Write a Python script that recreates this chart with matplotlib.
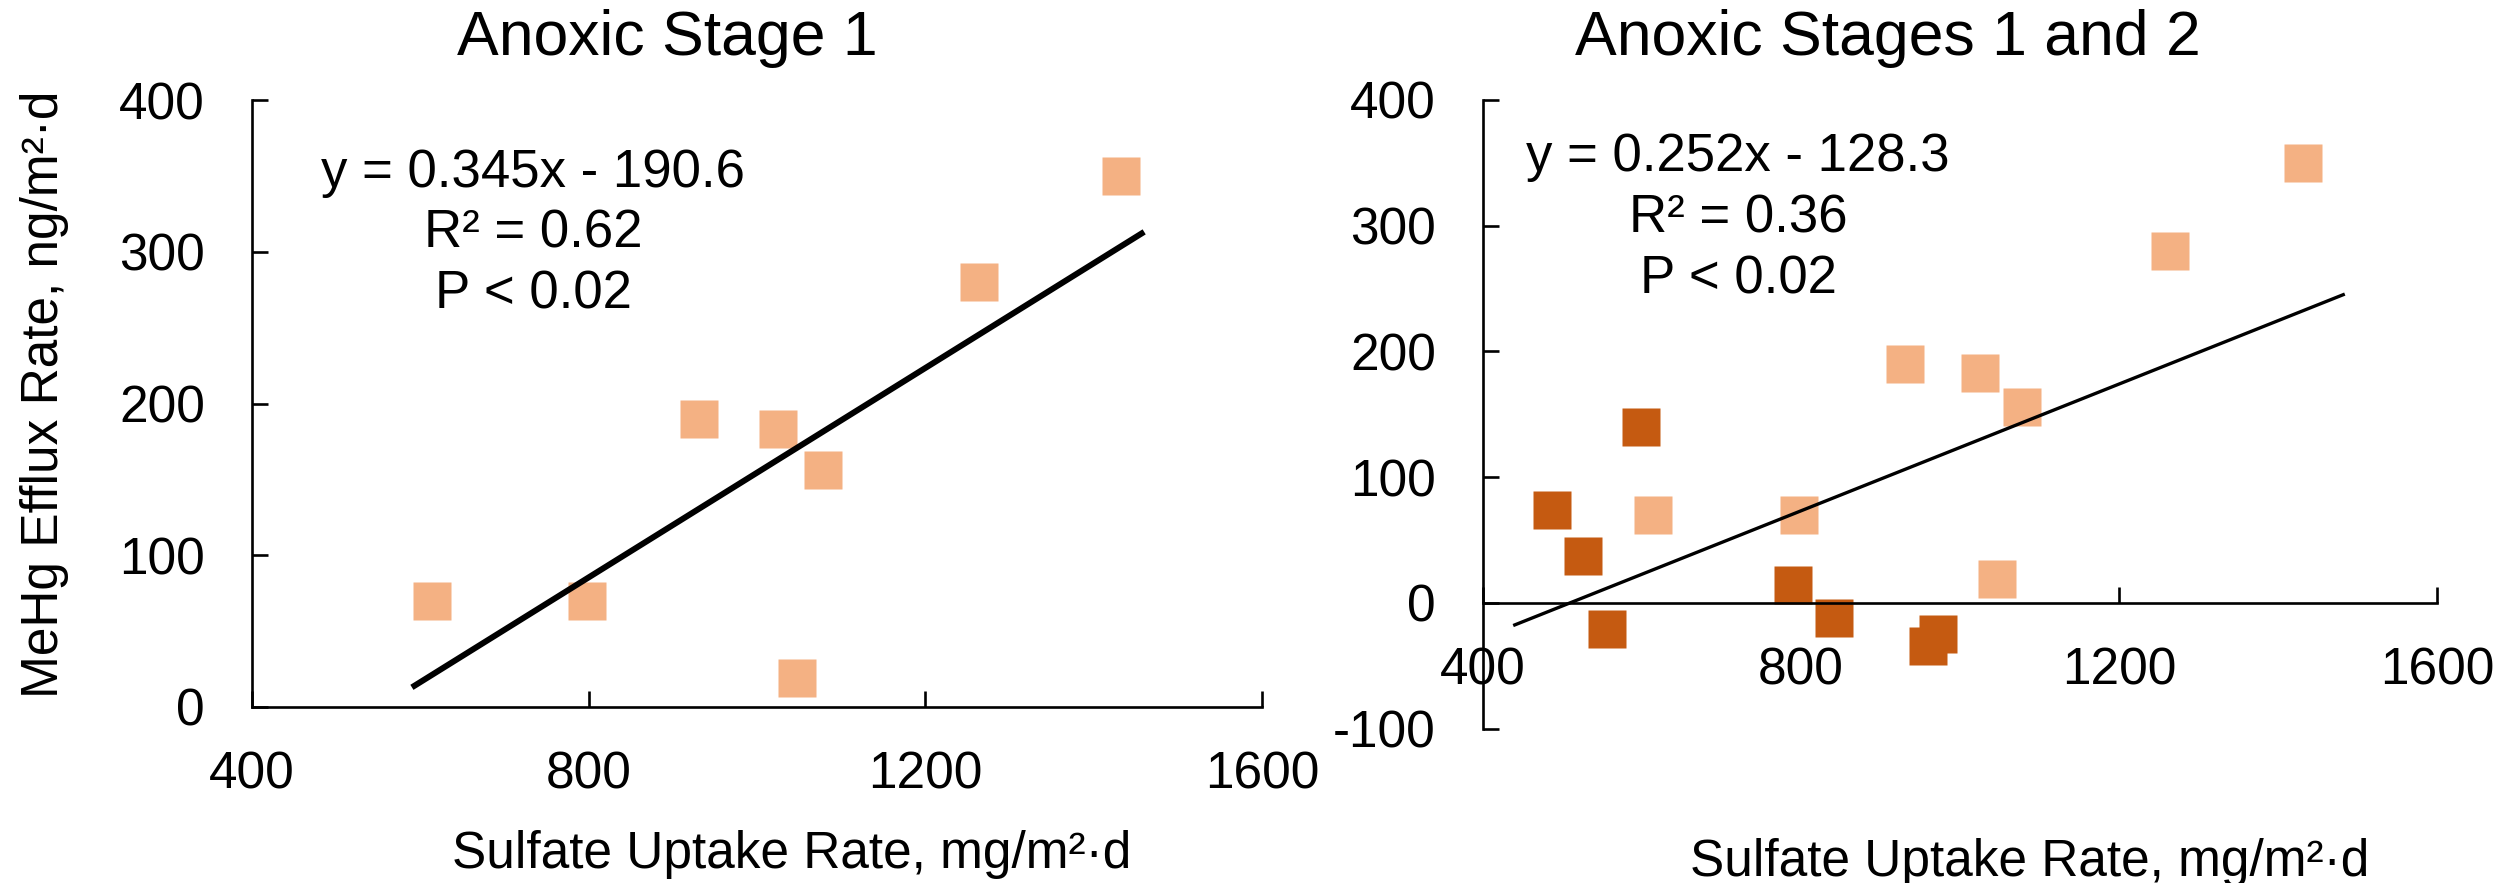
import numpy as np
import matplotlib.pyplot as plt

plt.rcParams['font.family'] = ['Liberation Sans', 'DejaVu Sans']
plt.rcParams['axes.unicode_minus'] = False

# Sulfate uptake vs MeHg efflux, anoxic stage 1 cores (light) and stage 2 cores (dark)
stage1_sulfate = [614, 798, 931, 1025, 1047, 1078, 1264, 1432]
stage1_mehg = [70, 70, 190, 183, 19, 156, 280, 350]
stage2_sulfate = [487, 526, 556, 599, 790, 841, 960, 972]
stage2_mehg = [74, 37, -21, 140, 14, -12, -34, -25]

# Linear fits: slope, intercept, R^2, p bound, x span of the trendline
fit_stage1 = [0.345, -190.6, 0.62, 0.02]
span_stage1 = [590, 1460]
fit_both = [0.252, -128.3, 0.36, 0.02]
span_both = [438, 1484]

x_ticks = [400, 800, 1200, 1600]
y_ticks_1 = [0, 100, 200, 300, 400]
y_ticks_2 = [-100, 0, 100, 200, 300, 400]

LIGHT = '#F4B183'
DARK = '#C55A11'
FS = 37

W, H = 2514, 883
fig = plt.figure(figsize=(W / 100, H / 100), dpi=100)
ax1 = fig.add_axes([252 / W, 1 - 707 / H, 1010 / W, 607 / H])
ax2 = fig.add_axes([1483 / W, 1 - 728.75 / H, 954 / W, 628.75 / H])


def style(ax, yticks):
    for s in ('top', 'right'):
        ax.spines[s].set_visible(False)
    for s in ('left', 'bottom'):
        ax.spines[s].set_linewidth(1.9)
    ax.set_xlim(x_ticks[0], x_ticks[-1])
    ax.set_ylim(yticks[0], yticks[-1])
    ax.set_xticks(x_ticks)
    ax.set_yticks(yticks)
    ax.tick_params(direction='in', length=11.5, width=1.9, labelsize=FS)
    ax.tick_params(axis='x', pad=31)
    ax.tick_params(axis='y', pad=34)


def trend(ax, fit, span, lw):
    xs = np.array(span, dtype=float)
    ax.plot(xs, fit[0] * xs + fit[1], color='black', lw=lw, zorder=3,
            solid_capstyle='butt')


def fit_label(ax, fit, x, y0, step):
    sign = '-' if fit[1] < 0 else '+'
    lines = [f'y = {fit[0]:.3f}x {sign} {abs(fit[1]):.1f}',
             f'R² = {fit[2]:.2f}',
             f'P < {fit[3]:.2f}']
    for i, s in enumerate(lines):
        ax.text(x, y0 - i * step, s, ha='center', va='baseline', fontsize=38)


# left panel: stage 1 only
style(ax1, y_ticks_1)
ax1.plot(stage1_sulfate, stage1_mehg, 's', ms=27.4, color=LIGHT, mec='none', zorder=2)
trend(ax1, fit_stage1, span_stage1, 4.3)
fit_label(ax1, fit_stage1, 734, 342.7, 40)

# right panel: stages 1 and 2, x axis crossing at zero
style(ax2, y_ticks_2)
ax2.spines['bottom'].set_position(('data', 0))
ax2.plot(stage1_sulfate, stage1_mehg, 's', ms=27.4, color=LIGHT, mec='none', zorder=2)
ax2.plot(stage2_sulfate, stage2_mehg, 's', ms=27.4, color=DARK, mec='none', zorder=2)
trend(ax2, fit_both, span_both, 2.4)
fit_label(ax2, fit_both, 721, 343.5, 48.5)

fig.text(667 / W, 1 - 55 / H, 'Anoxic Stage 1', ha='center', va='baseline', fontsize=45)
fig.text(1888 / W, 1 - 55 / H, 'Anoxic Stages 1 and 2', ha='center', va='baseline', fontsize=45)
fig.text(792 / W, 1 - 868 / H, 'Sulfate Uptake Rate, mg/m²·d', ha='center', va='baseline', fontsize=FS)
fig.text(2030 / W, 1 - 876 / H, 'Sulfate Uptake Rate, mg/m²·d', ha='center', va='baseline', fontsize=FS)
fig.text(45 / W, 1 - 394 / H, 'MeHg Efflux Rate, ng/m²·d', ha='center', va='center',
         rotation=90, fontsize=FS)

fig.savefig('out.png', dpi=100)
